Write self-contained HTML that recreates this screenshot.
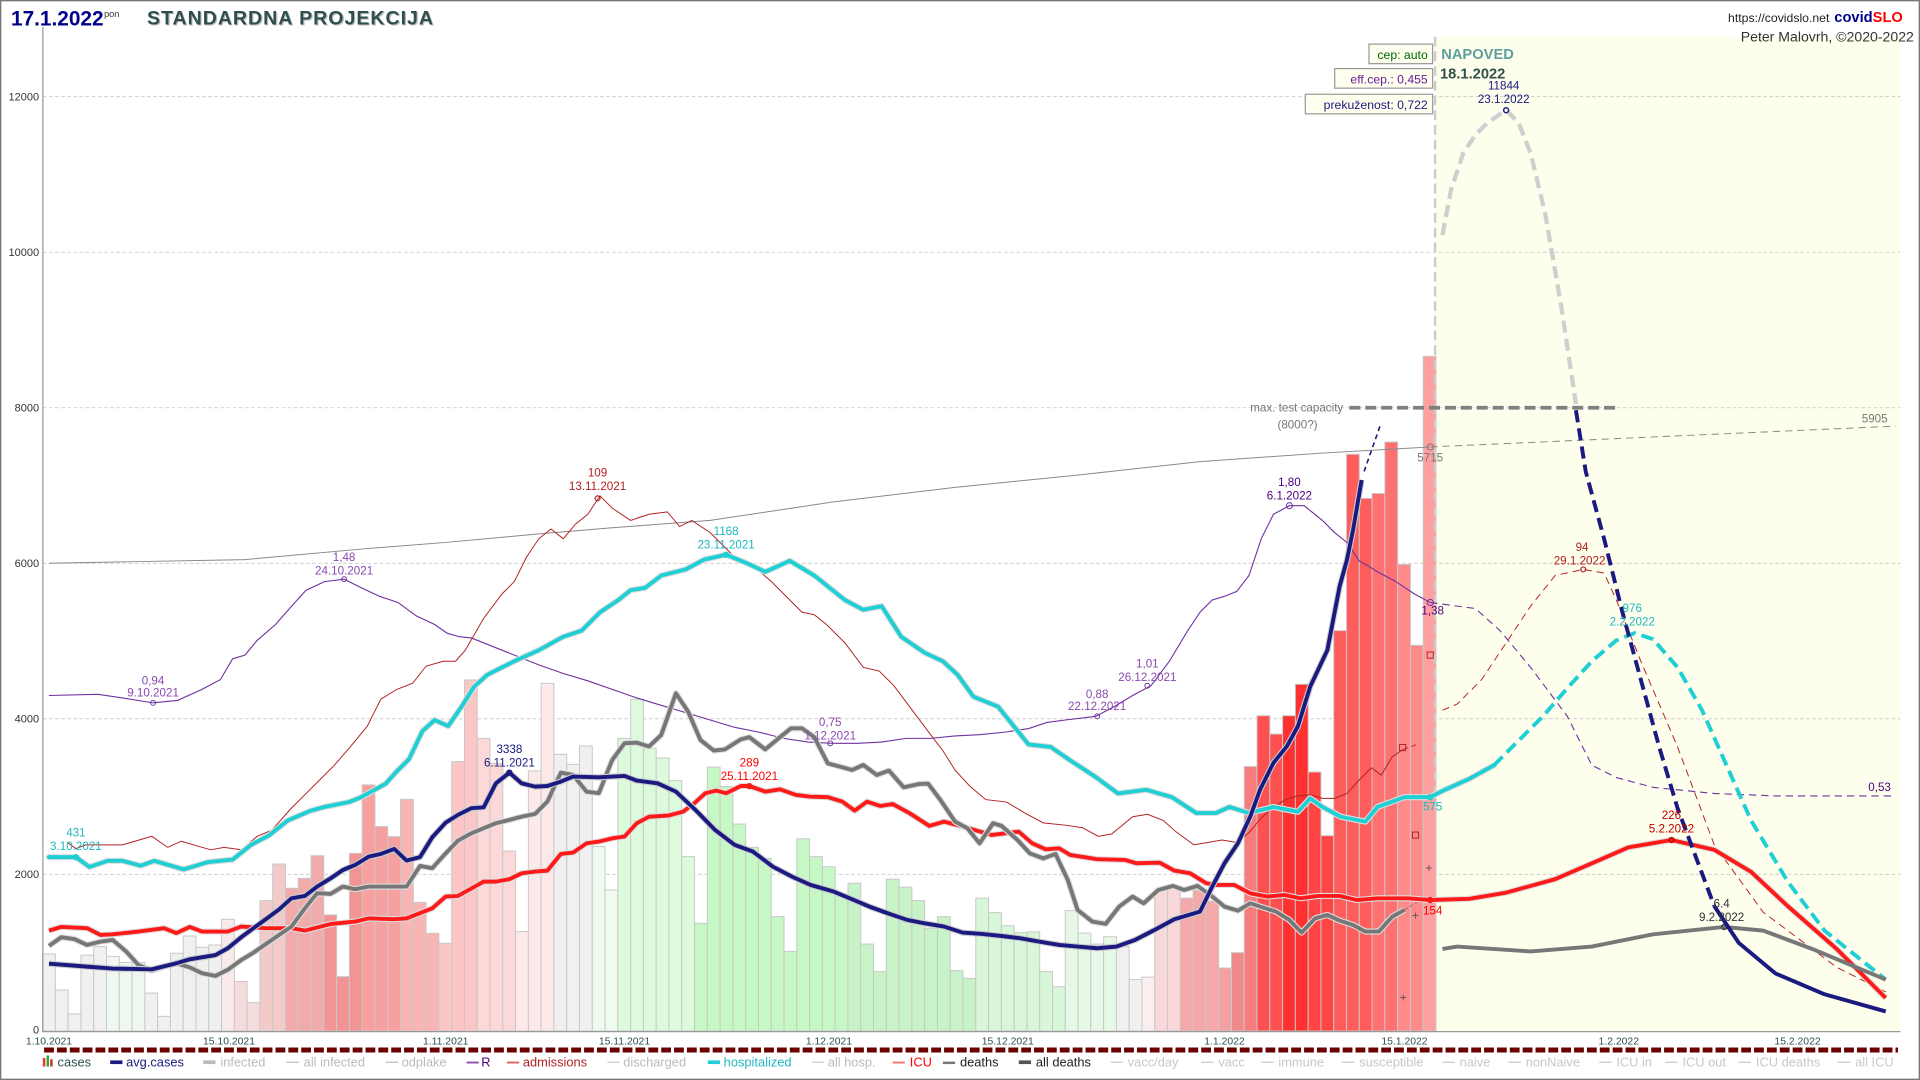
<!DOCTYPE html>
<html><head><meta charset="utf-8"><style>
html,body{margin:0;padding:0;background:#fff;}
svg{display:block;font-family:"Liberation Sans",sans-serif;}
</style></head><body>
<svg id="s" width="1920" height="1080" viewBox="0 0 1568 882" xmlns="http://www.w3.org/2000/svg">
<rect x="0" y="0" width="1568" height="882" fill="#fff"/>
<rect x="0.5" y="0.5" width="1567" height="881" fill="none" stroke="#777" stroke-width="1.2"/>
<rect x="1172" y="30" width="380" height="812" fill="#fefeec"/>
<g stroke="#c8c8c8" stroke-width="0.7" stroke-dasharray="3,2">
<line x1="35" y1="714" x2="1552" y2="714"/><line x1="35" y1="587" x2="1552" y2="587"/>
<line x1="35" y1="460" x2="1552" y2="460"/><line x1="35" y1="333" x2="1552" y2="333"/>
<line x1="35" y1="206" x2="1552" y2="206"/><line x1="35" y1="79" x2="1552" y2="79"/>
</g>
<g font-size="9" fill="#333" text-anchor="end">
<text x="32" y="844">0</text><text x="32" y="717">2000</text><text x="32" y="590">4000</text>
<text x="32" y="463">6000</text><text x="32" y="336">8000</text><text x="32" y="209">10000</text><text x="32" y="82">12000</text>
</g>
<g id="bars"></g>
<line x1="1172" y1="30" x2="1172" y2="660" stroke="#ccc" stroke-width="2" stroke-dasharray="8,4"/>
<line x1="1102" y1="333" x2="1322" y2="333" stroke="#808080" stroke-width="3" stroke-dasharray="9,4"/>
<text x="1097" y="336" font-size="9.5" fill="#777" text-anchor="end">max. test capacity</text>
<text x="1076" y="350" font-size="9.5" fill="#777" text-anchor="end">(8000?)</text>
<polyline fill="none" stroke="#888" stroke-width="0.8" points="40,460 200,457 300,448 364,443 440,436 500,431 580,425 680,410 780,398 880,388 980,377 1080,370 1168,365"/>
<polyline fill="none" stroke="#888" stroke-width="0.8" stroke-dasharray="6,4" points="1168,365 1548,348"/>
<circle cx="1168" cy="365" r="2.5" fill="none" stroke="#777" stroke-width="0.8"/>
<polyline fill="none" stroke="#7030a0" stroke-width="0.9" points="40,568 80,567 100,570 125,574 145,572 165,563 180,555 190,538 200,535 210,523 225,510 240,493 250,482 265,475 281,473 295,480 310,487 325,492 340,503 355,510 365,517 375,520 385,521 400,527 420,535 440,543 460,550 480,556 500,563 520,570 540,576 560,582 580,588 600,594 620,598 640,603 660,606 680,607 700,607 720,606 740,603 760,603 780,601 800,600 820,598 840,595 855,590 870,588 895,585 910,577 925,568 940,560 955,540 970,515 980,500 990,490 1000,487 1010,483 1020,470 1030,440 1040,420 1053,413 1065,413 1080,425 1090,435 1100,443 1110,458 1117,462 1125,467 1140,475 1155,485 1168,492"/>
<polyline fill="none" stroke="#7030a0" stroke-width="0.9" stroke-dasharray="6,4" points="1168,492 1190,495 1205,497 1225,515 1250,545 1280,585 1300,625 1320,635 1350,643 1400,648 1450,650 1548,650"/>
<g fill="none" stroke="#7030a0" stroke-width="0.8"><circle cx="125" cy="574" r="2"/><circle cx="281" cy="473" r="2"/><circle cx="678" cy="607" r="2"/><circle cx="896" cy="585" r="2"/><circle cx="937" cy="560" r="2"/><circle cx="1053" cy="413" r="2.5"/><circle cx="1168" cy="492" r="2.5"/></g>
<polyline fill="none" stroke="#b22222" stroke-width="0.8" points="55,688 62,693 70,690 100,690 124,683 137,692 148,687 172,694 183,692 197,694 210,683 222,678 237,661 249,649 260,638 273,625 286,610 300,593 311,571 324,563 337,558 348,544 362,540 372,540 380,531 395,505 410,485 420,475 430,455 440,440 450,432 460,440 470,428 480,420 490,405 500,415 515,425 530,420 545,418 555,430 565,425 580,435 600,455 615,462 630,475 645,490 655,500 665,502 675,510 690,525 705,545 718,548 730,560 745,580 760,600 770,613 780,629 792,642 805,653 822,655 837,664 852,672 871,674 884,676 897,683 908,681 925,667 937,665 950,670 960,679 975,690 998,686 1010,688 1020,680 1030,668 1040,659 1050,653 1060,650 1070,649 1080,652 1090,652 1100,648 1110,637 1120,627 1128,633 1137,618 1146,612"/>
<polyline fill="none" stroke="#b22222" stroke-width="0.8" stroke-dasharray="4,3" points="1146,612 1157,608"/>
<polyline fill="none" stroke="#b22222" stroke-width="0.8" stroke-dasharray="6,4" points="1178,580 1190,575 1210,555 1230,525 1250,495 1270,470 1293,465 1310,468 1320,490 1340,540 1370,610 1400,690 1440,745 1500,790 1540,810"/>
<circle cx="488" cy="407" r="2" fill="none" stroke="#b22222"/>
<circle cx="1293" cy="465" r="2" fill="none" stroke="#b22222"/>
<g fill="none" stroke="#b22222" stroke-width="0.8"><rect x="1143" y="608" width="5" height="5"/><rect x="1153.5" y="679.5" width="5" height="5"/><rect x="1165.5" y="532.5" width="5" height="5"/></g>
<g fill="#555" font-size="10" text-anchor="middle"><text x="1167" y="712">+</text><text x="1156" y="751">+</text><text x="1146" y="818">+</text></g>
<g fill="none" stroke-linejoin="round" stroke-linecap="round">
<polyline stroke="#ddd" stroke-width="5" points="40,700 55,700 62,700 73,708 88,703 100,703 115,707 126,703 150,710 170,704 190,702 205,690 220,682 235,670 254,662 265,659 285,655 295,651 315,640 323,631 334,620 345,597 355,588 366,593 377,577 387,561 398,551 408,546 420,540 440,531 460,520 475,515 490,500 505,490 515,482 527,480 540,470 560,465 575,457 593,453 610,460 625,467 645,458 665,470 690,490 705,498 720,495 736,520 755,533 770,540 782,551 795,569 815,577 840,608 858,610 874,621 894,634 913,648 936,645 957,651 977,664 993,664 1004,659 1020,664 1040,659 1060,663 1070,652 1080,659 1095,667 1115,671 1125,659 1147,651 1168,651 1180,645 1200,636 1220,625"/>
<polyline stroke="#1fcfd4" stroke-width="3.2" points="40,700 55,700 62,700 73,708 88,703 100,703 115,707 126,703 150,710 170,704 190,702 205,690 220,682 235,670 254,662 265,659 285,655 295,651 315,640 323,631 334,620 345,597 355,588 366,593 377,577 387,561 398,551 408,546 420,540 440,531 460,520 475,515 490,500 505,490 515,482 527,480 540,470 560,465 575,457 593,453 610,460 625,467 645,458 665,470 690,490 705,498 720,495 736,520 755,533 770,540 782,551 795,569 815,577 840,608 858,610 874,621 894,634 913,648 936,645 957,651 977,664 993,664 1004,659 1020,664 1040,659 1060,663 1070,652 1080,659 1095,667 1115,671 1125,659 1147,651 1168,651 1180,645 1200,636 1220,625"/>
<polyline stroke="#1fcfd4" stroke-width="3.2" stroke-dasharray="10,5" stroke-linecap="butt" points="1220,625 1240,605 1260,585 1280,562 1300,540 1320,523 1335,517 1350,522 1370,545 1390,580 1410,625 1430,670 1460,720 1490,760 1540,800"/>
</g>
<circle cx="62" cy="700" r="2" fill="none" stroke="#1fcfd4" stroke-width="1.2"/>
<circle cx="593" cy="453" r="2" fill="none" stroke="#1fcfd4" stroke-width="1.2"/>
<circle cx="1168" cy="651" r="2" fill="none" stroke="#1fcfd4" stroke-width="1.2"/>
<g fill="none" stroke-linejoin="round">
<polyline stroke="#ddd" stroke-width="5" points="40,760 50,757 71,758 82,763.5 92,763 113,760.8 134,758 144,762 155,757 165,760.8 186,760.8 197,756.7 217,758 238,758 249,760 270,754.6 290,752.6 301,750 322,750.7 332,750 353,741.8 364,732.2 374,731.7 395,720 405,720 416,718 426,713.2 437,711.8 447,711 458,697.4 468,696.3 479,688.7 489,687.3 500,684.6 510,683.2 520,672.3 530,667 546,666 558,662.8 567,656 576,647.8 585,645.7 593,647.8 605,641.9 612,641.9 625,646.5 637,644.6 650,649.2 662,650.6 676,651 688,654.7 698,662 708,654.7 719,658.2 729,656.6 743,664.2 759,674.5 771,671 786,675 810,681.9 832,679.2 843,688.7 854,693.6 865,692.8 874,698.2 896,701.7 919,702.3 928,705 947,704.5 959,711 972,713.2 985,721.3 993,722.7 1008,722.7 1021,729.5 1035,732.2 1049,730.9 1062,733.6 1076,731.7 1094,731.7 1108,735 1125,733.6 1150,733.6 1168,735 1200,734 1230,729 1270,718 1300,705 1330,692 1365,686 1400,694 1430,712 1460,740 1500,775 1540,815"/>
<polyline stroke="#ff1a1a" stroke-width="3.2" points="40,760 50,757 71,758 82,763.5 92,763 113,760.8 134,758 144,762 155,757 165,760.8 186,760.8 197,756.7 217,758 238,758 249,760 270,754.6 290,752.6 301,750 322,750.7 332,750 353,741.8 364,732.2 374,731.7 395,720 405,720 416,718 426,713.2 437,711.8 447,711 458,697.4 468,696.3 479,688.7 489,687.3 500,684.6 510,683.2 520,672.3 530,667 546,666 558,662.8 567,656 576,647.8 585,645.7 593,647.8 605,641.9 612,641.9 625,646.5 637,644.6 650,649.2 662,650.6 676,651 688,654.7 698,662 708,654.7 719,658.2 729,656.6 743,664.2 759,674.5 771,671 786,675 810,681.9 832,679.2 843,688.7 854,693.6 865,692.8 874,698.2 896,701.7 919,702.3 928,705 947,704.5 959,711 972,713.2 985,721.3 993,722.7 1008,722.7 1021,729.5 1035,732.2 1049,730.9 1062,733.6 1076,731.7 1094,731.7 1108,735 1125,733.6 1150,733.6 1168,735 1200,734 1230,729 1270,718 1300,705 1330,692 1365,686 1400,694 1430,712 1460,740 1500,775 1540,815"/>
</g>
<circle cx="612" cy="642" r="2" fill="none" stroke="#ff1a1a" stroke-width="1.2"/>
<circle cx="1168" cy="735" r="2" fill="none" stroke="#ff1a1a" stroke-width="1.2"/>
<circle cx="1365" cy="686" r="2" fill="none" stroke="#b00" stroke-width="1.2"/>
<g fill="none" stroke-linejoin="round">
<polyline stroke="#ddd" stroke-width="5" points="40,772.5 50,765.4 61,767 71,771.7 82,769 92,767.6 103,777 113,788 124,792.7 134,789.4 144,786.7 155,790 165,794.8 176,797 186,792 197,784 207,778 218,770.3 228,763.5 238,756.7 249,741.8 259,729.5 270,730 280,724 290,726.2 301,724 332,724 343,707.2 353,709 364,696.9 374,686.5 385,680.5 395,676.4 405,672.3 416,669.6 426,666.9 437,664.7 447,654.7 458,631 468,632.9 479,646.5 489,647.8 500,620.6 510,607 520,606.5 530,609.7 540,600.2 552,566.2 562,581.2 572,604.3 583,613 592,612 605,603.8 612,602 625,612 637,602 646,594.8 655,594.8 665,602 676,623.4 696,628.8 705,624.7 716,632.9 726,629.3 738,643 751,640.2 758,640 768,653.3 780,671 790,676.4 800,688.7 811,672.3 818,674.5 831,686 841,696.9 852,701 862,697.4 872,718.6 880,743.1 892,752.6 903,754.5 914,740.4 925,732.2 934,737.7 946,726.8 958,723.5 967,726.8 978,723.5 990,732.2 1000,740.4 1011,743.7 1021,737.7 1042,744.5 1053,751.3 1063,761.6 1074,750 1084,747.2 1094,751.8 1105,755.4 1115,760.8 1126,760.8 1137,748.6 1147,743.1"/>
<polyline stroke="#777" stroke-width="3.2" points="40,772.5 50,765.4 61,767 71,771.7 82,769 92,767.6 103,777 113,788 124,792.7 134,789.4 144,786.7 155,790 165,794.8 176,797 186,792 197,784 207,778 218,770.3 228,763.5 238,756.7 249,741.8 259,729.5 270,730 280,724 290,726.2 301,724 332,724 343,707.2 353,709 364,696.9 374,686.5 385,680.5 395,676.4 405,672.3 416,669.6 426,666.9 437,664.7 447,654.7 458,631 468,632.9 479,646.5 489,647.8 500,620.6 510,607 520,606.5 530,609.7 540,600.2 552,566.2 562,581.2 572,604.3 583,613 592,612 605,603.8 612,602 625,612 637,602 646,594.8 655,594.8 665,602 676,623.4 696,628.8 705,624.7 716,632.9 726,629.3 738,643 751,640.2 758,640 768,653.3 780,671 790,676.4 800,688.7 811,672.3 818,674.5 831,686 841,696.9 852,701 862,697.4 872,718.6 880,743.1 892,752.6 903,754.5 914,740.4 925,732.2 934,737.7 946,726.8 958,723.5 967,726.8 978,723.5 990,732.2 1000,740.4 1011,743.7 1021,737.7 1042,744.5 1053,751.3 1063,761.6 1074,750 1084,747.2 1094,751.8 1105,755.4 1115,760.8 1126,760.8 1137,748.6 1147,743.1"/>
<polyline stroke="#777" stroke-width="0.8" stroke-dasharray="3,2" points="1147,743 1157,737"/>
<polyline stroke="#777" stroke-width="3.2" points="1178,775 1190,773 1250,777 1300,773 1350,763 1408,757 1440,760 1480,775 1540,800"/>
</g>
<circle cx="1408" cy="757" r="2" fill="none" stroke="#444" stroke-width="1.2"/>
<g fill="none" stroke-linejoin="round">
<polyline stroke="#ccc" stroke-width="5" points="40,787 71,789.4 92,791 124,791.6 144,786.7 155,783.4 176,780 186,774.4 197,765.4 207,758 218,750 228,742.6 238,733.6 249,731.7 259,724 270,717.3 280,710.5 290,706.4 301,699.6 311,697.4 322,693.3 332,702.8 343,700 353,683.8 364,671.8 374,665.5 385,660 395,659.3 405,639.7 416,631 426,639.7 437,642.4 447,641.9 458,638.3 468,634.2 489,634.8 510,633.7 520,637.5 537,639.7 552,646.5 568,661.5 584,677.8 600,690 615,695.5 631,707.7 647,716 662,722.7 681,728.2 694,733.6 710,740.4 725,745.8 741,751.3 755,754 771,756.7 786,761.6 802,762.7 818,764.4 833,766.2 849,769 865,771.7 880,773 896,774.4 912,773 927,767.6 943,759.4 959,750.7 980,744.5 990,724 1000,705 1011,688.6 1021,667 1029,645 1040,623 1051,609.4 1060,593 1070,560.7 1084,531 1094,479 1100,457.3 1105,432.8 1112,392"/>
<polyline stroke="#1a1a80" stroke-width="3.2" points="40,787 71,789.4 92,791 124,791.6 144,786.7 155,783.4 176,780 186,774.4 197,765.4 207,758 218,750 228,742.6 238,733.6 249,731.7 259,724 270,717.3 280,710.5 290,706.4 301,699.6 311,697.4 322,693.3 332,702.8 343,700 353,683.8 364,671.8 374,665.5 385,660 395,659.3 405,639.7 416,631 426,639.7 437,642.4 447,641.9 458,638.3 468,634.2 489,634.8 510,633.7 520,637.5 537,639.7 552,646.5 568,661.5 584,677.8 600,690 615,695.5 631,707.7 647,716 662,722.7 681,728.2 694,733.6 710,740.4 725,745.8 741,751.3 755,754 771,756.7 786,761.6 802,762.7 818,764.4 833,766.2 849,769 865,771.7 880,773 896,774.4 912,773 927,767.6 943,759.4 959,750.7 980,744.5 990,724 1000,705 1011,688.6 1021,667 1029,645 1040,623 1051,609.4 1060,593 1070,560.7 1084,531 1094,479 1100,457.3 1105,432.8 1112,392"/>
<polyline stroke="#1a1a80" stroke-width="1.3" stroke-dasharray="4,3" points="1114,385 1127,348"/>
<polyline stroke="#1a1a80" stroke-width="3.2" stroke-dasharray="10,5" points="1287,335 1295,385 1310,440 1325,500 1340,555 1355,610 1370,660 1385,700 1400,740"/>
<polyline stroke="#1a1a80" stroke-width="3.2" points="1400,740 1420,770 1450,795 1490,812 1540,826"/>
</g>
<circle cx="416" cy="631" r="2" fill="none" stroke="#1a1a80" stroke-width="1.2"/>
<polyline fill="none" stroke="#cfcfcf" stroke-width="3.5" stroke-dasharray="10,5" points="1178,192 1185,155 1195,125 1205,110 1215,100 1230,90 1240,100 1250,125 1262,175 1275,250 1287,330"/>
<circle cx="1230" cy="90" r="2" fill="#fff" stroke="#1a1a80" stroke-width="1.2"/>
<g font-size="9.5" text-anchor="middle">
<g fill="#1fb8c0"><text x="62" y="683">431</text><text x="62" y="694">3.10.2021</text><text x="593" y="437">1168</text><text x="593" y="448">23.11.2021</text><text x="1170" y="662">575</text><text x="1333" y="500">976</text><text x="1333" y="511">2.2.2022</text></g>
<g fill="#8a4ab0"><text x="125" y="559">0,94</text><text x="125" y="569">9.10.2021</text><text x="281" y="458">1,48</text><text x="281" y="469">24.10.2021</text><text x="678" y="593">0,75</text><text x="678" y="604">1.12.2021</text><text x="896" y="570">0,88</text><text x="896" y="580">22.12.2021</text><text x="937" y="545">1,01</text><text x="937" y="556">26.12.2021</text></g>
<g fill="#4b0082"><text x="1053" y="397">1,80</text><text x="1053" y="408">6.1.2022</text><text x="1170" y="502">1,38</text><text x="1535" y="646">0,53</text></g>
<g fill="#b22222"><text x="488" y="389">109</text><text x="488" y="400">13.11.2021</text><text x="1292" y="450">94</text><text x="1290" y="461">29.1.2022</text></g>
<g fill="#1a1a80"><text x="416" y="615">3338</text><text x="416" y="626">6.11.2021</text><text x="1228" y="73">11844</text><text x="1228" y="84">23.1.2022</text></g>
<g fill="#ff0000"><text x="612" y="626">289</text><text x="612" y="637">25.11.2021</text><text x="1170" y="747">154</text></g>
<g fill="#c00000"><text x="1365" y="669">226</text><text x="1365" y="680">5.2.2022</text></g>
<g fill="#333"><text x="1406" y="741">6.4</text><text x="1406" y="752">9.2.2022</text></g>
<g fill="#777"><text x="1168" y="377">5715</text><text x="1531" y="345">5905</text></g>
</g>
<g font-size="10">
<rect x="1118" y="36" width="52" height="16" fill="#fffff0" stroke="#999"/><text x="1166" y="48" fill="#006400" text-anchor="end">cep: auto</text>
<rect x="1090" y="56" width="80" height="16" fill="#fffff0" stroke="#999"/><text x="1166" y="68" fill="#6a1b9a" text-anchor="end">eff.cep.: 0,455</text>
<rect x="1066" y="77" width="104" height="16" fill="#fffff0" stroke="#999"/><text x="1166" y="89" fill="#1a1a80" text-anchor="end">prekuženost: 0,722</text>
</g>
<text x="1177" y="48" font-size="12" font-weight="bold" fill="#5f9ea0">NAPOVED</text>
<text x="1176" y="64" font-size="12" font-weight="bold" fill="#2f4f4f">18.1.2022</text>
<line x1="35" y1="22" x2="35" y2="843" stroke="#999" stroke-width="1"/>
<line x1="35" y1="842.5" x2="1552" y2="842.5" stroke="#999" stroke-width="1"/>
<g font-size="8.5" fill="#2f4f4f" text-anchor="middle">
<text x="40" y="853">1.10.2021</text><text x="187" y="853">15.10.2021</text><text x="364" y="853">1.11.2021</text><text x="510" y="853">15.11.2021</text><text x="677" y="853">1.12.2021</text><text x="823" y="853">15.12.2021</text><text x="1000" y="853">1.1.2022</text><text x="1147" y="853">15.1.2022</text><text x="1322" y="853">1.2.2022</text><text x="1468" y="853">15.2.2022</text>
</g>
<line x1="36" y1="857.5" x2="1550" y2="857.5" stroke="#6b0000" stroke-width="4" stroke-dasharray="8,2.5"/>
<g font-size="10.5">
<rect x="35" y="864" width="2" height="7" fill="#e33"/><rect x="38" y="862" width="2" height="9" fill="#3a3"/><rect x="41" y="865" width="2" height="6" fill="#c33"/>
<text x="47" y="871" fill="#2f4f4f">cases</text>
<rect x="90" y="866" width="10" height="3" fill="#1a1a80"/><text x="103" y="871" fill="#1a1a80">avg.cases</text>
<g fill="#bbb"><rect x="166" y="866" width="10" height="3"/><text x="180" y="871">infected</text>
<rect x="234" y="867" width="10" height="1"/><text x="248" y="871">all infected</text>
<rect x="315" y="867" width="10" height="1"/><text x="328" y="871">odplake</text></g>
<rect x="381" y="867" width="10" height="1.5" fill="#8a4ab0"/><text x="393" y="871" fill="#4b0082">R</text>
<rect x="414" y="867" width="10" height="1.5" fill="#e06060"/><text x="427" y="871" fill="#b22222">admissions</text>
<rect x="496" y="867" width="10" height="1" fill="#ccc"/><text x="509" y="871" fill="#bbb">discharged</text>
<rect x="578" y="866" width="10" height="3" fill="#1fcfd4"/><text x="591" y="871" fill="#1fb8c0">hospitalized</text>
<rect x="663" y="867" width="10" height="1" fill="#ccc"/><text x="676" y="871" fill="#bbb">all hosp.</text>
<rect x="729" y="867" width="10" height="1.5" fill="#ff7070"/><text x="743" y="871" fill="#ff0000">ICU</text>
<rect x="770" y="867" width="10" height="2" fill="#777"/><text x="784" y="871" fill="#222">deaths</text>
<rect x="832" y="866" width="10" height="3" fill="#555"/><text x="846" y="871" fill="#222">all deaths</text>
<g fill="#c8c8c8"><rect x="907" y="867" width="10" height="1"/><text x="921" y="871">vacc/day</text>
<rect x="981" y="867" width="10" height="1"/><text x="995" y="871">vacc</text>
<rect x="1030" y="867" width="10" height="1"/><text x="1044" y="871">immune</text>
<rect x="1096" y="867" width="10" height="1"/><text x="1110" y="871">susceptible</text>
<rect x="1178" y="867" width="10" height="1"/><text x="1192" y="871">naive</text>
<rect x="1232" y="867" width="10" height="1"/><text x="1246" y="871">nonNaive</text>
<rect x="1306" y="867" width="10" height="1"/><text x="1320" y="871">ICU in</text>
<rect x="1360" y="867" width="10" height="1"/><text x="1374" y="871">ICU out</text>
<rect x="1420" y="867" width="10" height="1"/><text x="1434" y="871">ICU deaths</text>
<rect x="1501" y="867" width="10" height="1"/><text x="1515" y="871">all ICU</text></g>
</g>
<text x="9" y="21" font-size="17" font-weight="bold" fill="#00008b">17.1.2022</text>
<text x="85" y="14" font-size="7.5" fill="#333">pon</text>
<text x="121" y="21" font-size="16" font-weight="bold" fill="#bbb" letter-spacing="0.8">STANDARDNA PROJEKCIJA</text>
<text x="120" y="20" font-size="16" font-weight="bold" fill="#2f4f4f" letter-spacing="0.8">STANDARDNA PROJEKCIJA</text>
<text x="1494" y="18" font-size="10" fill="#222" text-anchor="end">https://covidslo.net</text>
<text x="1498" y="18" font-size="12" font-weight="bold" fill="#00008b">covid<tspan fill="#ff0000">SLO</tspan></text>
<text x="1563" y="34" font-size="11.5" fill="#333" text-anchor="end">Peter Malovrh, ©2020-2022</text>
</svg>
<script>
var tops=[779,808.5,828,780,773,781,786,786,811,830,778.5,764.4,773.6,771.7,750.7,801.6,818.8,735.5,705.6,725.4,717.3,698.8,747.2,797.6,696.9,641,675,683.2,652.8,736.9,762.2,770.3,622,555.3,603,623.4,695,760.8,629.6,558,616,624.2,609.2,691.4,726.8,603,571,611,619,637.5,699.6,754,626.5,642.4,673,692,701,748.6,777,685,699.6,707.8,731,721.3,771,793.5,718,724.5,735.5,758,748.6,792.7,799,733.5,745.3,756,761.7,761,793.5,805.8,743.7,762,771,765,773,800,798,726,726,733.5,727,736,790.5,778,626,584.5,599.5,584.5,558.8,630.5,682.5,515,371,407,403,361,461,527,291];
function col(d){
if(d<=4)return"#f0f0f0";if(d<=7)return"#eef8ee";if(d<=13)return"#f0f0f0";if(d==14)return"#fbeaea";
if(d<=16)return"#f6dcdc";if(d<=18)return"#f3caca";if(d<=21)return"#f2abab";if(d<=24)return"#f29494";
if(d<=27)return"#f7a0a0";if(d<=30)return"#f9b4b4";if(d<=33)return"#fbc6c6";if(d<=36)return"#fdd8d8";
if(d<=39)return"#fde9e9";if(d<=42)return"#f0f0f0";if(d<=44)return"#eefbee";if(d<=50)return"#dcfadc";
if(d<=62)return"#c6f8c6";if(d<=72)return"#c8f3c8";if(d<=79)return"#d8f6d8";if(d<=83)return"#e6f8e6";
if(d<=85)return"#f0f0f0";if(d==86)return"#fbeeee";if(d<=88)return"#f8d8d8";if(d<=91)return"#f4a8a8";
if(d<=92)return"#f4a0a0";if(d==93)return"#f08a8a";if(d==94)return"#f87c7c";if(d<=96)return"#ff5050";
if(d<=98)return"#ff3030";if(d<=100)return"#ff4444";if(d<=103)return"#ff5c5c";if(d<=105)return"#ff7070";
if(d<=107)return"#ff8a8a";return"#ffa0a0";}
var g=document.getElementById("bars"),ns="http://www.w3.org/2000/svg",w=10.44;
for(var d=0;d<tops.length;d++){var r=document.createElementNS(ns,"rect");var x=40+w*d-w/2;
r.setAttribute("x",x);r.setAttribute("y",tops[d]);r.setAttribute("width",w);r.setAttribute("height",842-tops[d]);
r.setAttribute("fill",col(d));r.setAttribute("stroke","#c8c8c8");r.setAttribute("stroke-width","0.8");g.appendChild(r);}
</script>
</body></html>
